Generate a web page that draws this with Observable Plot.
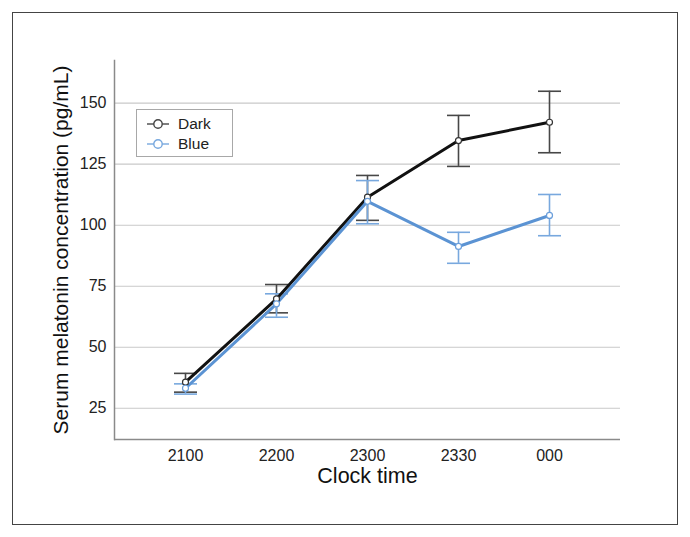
<!DOCTYPE html>
<html>
<head>
<meta charset="utf-8">
<script src="https://cdn.jsdelivr.net/npm/d3@7"></script>
<script src="https://cdn.jsdelivr.net/npm/@observablehq/plot@0.6"></script>
<style>
  html, body { margin: 0; padding: 0; background: #fff; }
  #wrap { position: relative; width: 690px; height: 537px; font-family: "Liberation Sans", Arial, sans-serif; }
  #border { position: absolute; left: 12px; top: 12px; width: 664px; height: 511px; border: 1.5px solid #444; pointer-events: none; }
  #legend { position: absolute; left: 136px; top: 109px; width: 95px; height: 46px; border: 1px solid #a8a8a8; background: #fff; font-size: 15.5px; color: #222; }
  .row { position: absolute; left: 10px; height: 20px; display: flex; align-items: center; }
  .row span { margin-left: 9px; }
</style>
</head>
<body>
<div id="wrap"></div>
<script>
const categories = ["2100", "2200", "2300", "2330", "000"];
const darkMean = [35.7, 69.8, 111.5, 134.7, 142.2];
const darkLow  = [31.6, 64.1, 102.0, 124.1, 129.7];
const darkHigh = [39.3, 75.7, 120.4, 145.0, 154.9];
const blueMean = [33.2, 67.8, 109.8, 91.3, 104.0];
const blueLow  = [30.8, 62.3, 100.6, 84.4, 95.7];
const blueHigh = [35.0, 71.9, 118.3, 97.1, 112.6];
const yTicks = [25, 50, 75, 100, 125, 150];
const seriesNames = ["Dark", "Blue"];

const colors = {
  Dark: {line: "#111111", bar: "#474747", dot: "#333333"},
  Blue: {line: "#5b93d3", bar: "#78a8de", dot: "#6a9edb"}
};

const dark = categories.map((c, i) => ({series: "Dark", time: c, mean: darkMean[i], lo: darkLow[i], hi: darkHigh[i]}));
const blue = categories.map((c, i) => ({series: "Blue", time: c, mean: blueMean[i], lo: blueLow[i], hi: blueHigh[i]}));

const cap = {draw(ctx) { ctx.moveTo(-11.5, 0); ctx.lineTo(11.5, 0); }};

function bars(data, color) {
  return [
    Plot.ruleX(data, {x: "time", y1: "lo", y2: "hi", stroke: color, strokeWidth: 1.6}),
    Plot.dot(data, {x: "time", y: "hi", symbol: cap, stroke: color, strokeWidth: 1.6, fill: "none"}),
    Plot.dot(data, {x: "time", y: "lo", symbol: cap, stroke: color, strokeWidth: 1.6, fill: "none"})
  ];
}

const chart = Plot.plot({
  width: 690,
  height: 537,
  marginLeft: 114,
  marginRight: 70,
  marginTop: 60,
  marginBottom: 98,
  style: {fontFamily: "'Liberation Sans', Arial, sans-serif", background: "transparent"},
  x: {type: "point", domain: categories, padding: 0.763},
  y: {domain: [12.2, 167.5]},
  marks: [
    Plot.gridY(yTicks, {stroke: "#c9c9c9", strokeOpacity: 1, strokeWidth: 1.2}),
    Plot.ruleY([12.2], {stroke: "#8a8a8a", strokeWidth: 1.5}),
    Plot.frame({anchor: "left", stroke: "#8a8a8a", strokeWidth: 1.5}),
    Plot.axisY(yTicks, {tickSize: 0, tickPadding: 8, fontSize: 16, fill: "#222", label: null}),
    Plot.axisX({tickSize: 0, tickPadding: 10, fontSize: 16, fill: "#222", label: null}),
    Plot.text(["Serum melatonin concentration (pg/mL)"], {text: d => d, frameAnchor: "left", textAnchor: "middle", dx: -53, rotate: -90, fontSize: 21, fill: "#111"}),
    Plot.text(["Clock time"], {text: d => d, frameAnchor: "bottom", dy: 43, fontSize: 21.5, fill: "#111"}),
    ...bars(dark, colors.Dark.bar),
    ...bars(blue, colors.Blue.bar),
    Plot.line(dark, {x: "time", y: "mean", stroke: colors.Dark.line, strokeWidth: 3}),
    Plot.line(blue, {x: "time", y: "mean", stroke: colors.Blue.line, strokeWidth: 3}),
    Plot.dot(dark, {x: "time", y: "mean", r: 3, stroke: colors.Dark.dot, fill: "#fff", strokeWidth: 1.2}),
    Plot.dot(blue, {x: "time", y: "mean", r: 3, stroke: colors.Blue.dot, fill: "#fff", strokeWidth: 1.2})
  ]
});

const wrap = document.getElementById("wrap");
wrap.appendChild(chart);
chart.style.position = "absolute";
chart.style.left = "0px";
chart.style.top = "0px";

const border = document.createElement("div");
border.id = "border";
wrap.appendChild(border);

const legend = document.createElement("div");
legend.id = "legend";
seriesNames.forEach((name, i) => {
  const row = document.createElement("div");
  row.className = "row";
  row.style.top = (4 + i * 20) + "px";
  const c = colors[name];
  row.innerHTML = `<svg width="22" height="14"><line x1="0" y1="7" x2="22" y2="7" stroke="${c.bar}" stroke-width="1.4"/><circle cx="11" cy="7" r="4.2" fill="#fff" stroke="${c.bar}" stroke-width="1.4"/></svg><span>${name}</span>`;
  legend.appendChild(row);
});
wrap.appendChild(legend);
</script>
</body>
</html>
